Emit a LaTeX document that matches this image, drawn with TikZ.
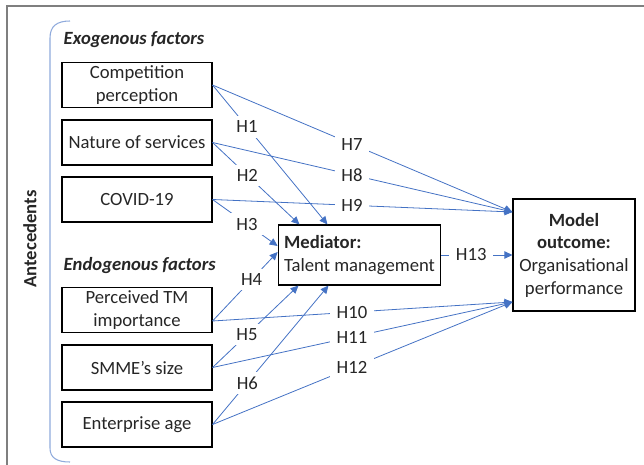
\documentclass[tikz,border=0pt]{standalone}
\usepackage{fontspec}
\setmainfont{Carlito}
\usetikzlibrary{arrows.meta,calc}
\definecolor{hypblue}{HTML}{4472C4}
\definecolor{bracketblue}{HTML}{8FAADC}
\definecolor{framegray}{HTML}{7F7F7F}
\definecolor{txtgray}{HTML}{262626}
\tikzset{
  factor/.style={draw=black,line width=0.8pt,minimum width=112.5pt,minimum height=33.75pt,align=center,inner sep=2pt},
  hyp/.style={draw=hypblue,line width=0.6pt,-{Triangle[length=6pt,width=5.5pt]}},
  hlab/.style={fill=white,inner xsep=5pt,inner ysep=3.5pt,text=txtgray}
}

\begin{document}
\begin{tikzpicture}[x=0.75pt,y=0.75pt,yscale=-1,xscale=1,
    every node/.style={font=\fontsize{14}{17}\selectfont,text=txtgray}]
    \useasboundingbox (0,0) rectangle (644,465);

    %Frame
    \draw[framegray,line width=1.3pt] (7,480) -- (7,6) -- (660,6);

    %Bracket
    \draw[bracketblue,line width=0.8pt] (70,21) .. controls (57,21) and (50,26) .. (50,38) -- (50,448) .. controls (50,458) and (57,462) .. (70,462);

    % Text Node
    \node[rotate=90,font=\fontsize{14}{17}\selectfont\bfseries] (ante) at (30,239) {Antecedents};
    \node[anchor=west,font=\fontsize{14}{17}\selectfont\bfseries\itshape] (exo) at (59,40) {Exogenous factors};
    \node[anchor=west,font=\fontsize{14}{17}\selectfont\bfseries\itshape] (endo) at (59,266) {Endogenous factors};

    %Factor boxes
    \node[factor] (cp) at (137,85) {Competition\\perception};
    \node[factor] (ns) at (137,142.5) {Nature of services};
    \node[factor] (cov) at (137,199.5) {COVID-19};
    \node[factor] (ptm) at (137,310) {Perceived TM\\importance};
    \node[factor] (size) at (137,367.5) {SMME’s size};
    \node[factor] (age) at (137,424.5) {Enterprise age};

    %Mediator and outcome
    \node[factor,minimum width=122pt,minimum height=45pt,align=left] (med) at (359.5,255) {\textbf{Mediator:}\\Talent management};
    \node[factor,minimum width=91.5pt,minimum height=84pt,inner sep=1pt] (out) at (574,255) {\textbf{Model}\\\textbf{outcome:}\\Organisational\\performance};

    %Hypotheses to mediator
    \draw[hyp] (cp.east) -- node[hlab,pos=.30] {H1} ($(med.north)+(-32,0)$);
    \draw[hyp] (ns.east) -- node[hlab,pos=.40] {H2} ($(med.north)+(-60,0)$);
    \draw[hyp] (cov.east) -- node[hlab,pos=.53] {H3} ($(med.west)+(0,-9)$);
    \draw[hyp] ($(ptm.east)+(0,11)$) -- node[hlab,pos=.60] {H4} ($(med.west)+(0,-3)$);
    \draw[hyp] (size.east) -- node[hlab,pos=.40] {H5} ($(med.south)+(-61,0)$);
    \draw[hyp] (age.east) -- node[hlab,pos=.30] {H6} ($(med.south)+(-31,0)$);

    %Hypotheses to outcome
    \draw[hyp] (cp.east) -- node[hlab,pos=.465] {H7} ($(out.west)+(0,-43)$);
    \draw[hyp] (ns.east) -- node[hlab,pos=.465] {H8} ($(out.west)+(0,-43)$);
    \draw[hyp] (cov.east) -- node[hlab,pos=.465] {H9} ($(out.west)+(0,-43)$);
    \draw[hyp] ($(ptm.east)+(0,11)$) -- node[hlab,pos=.465] {H10} ($(out.west)+(0,47)$);
    \draw[hyp] (size.east) -- node[hlab,pos=.465] {H11} ($(out.west)+(0,47)$);
    \draw[hyp] (age.east) -- node[hlab,pos=.465] {H12} ($(out.west)+(0,47)$);
    \draw[hyp] (med.east) -- node[hlab,pos=.42] {H13} (out.west);

\end{tikzpicture}
\end{document}
